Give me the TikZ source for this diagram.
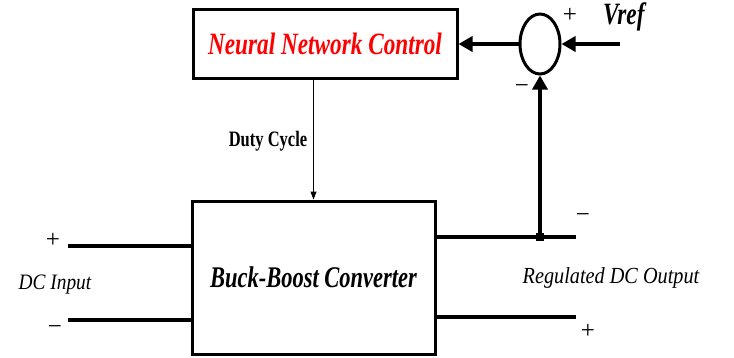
\documentclass[tikz,border=0pt]{standalone}
\usepackage{fontspec}
\setmainfont{Liberation Serif}
\newfontfamily\narrowfont[FakeStretch=0.75]{Liberation Serif}
\newfontfamily\midfont[FakeStretch=0.88]{Liberation Serif}
\usetikzlibrary{arrows.meta,shapes.geometric}

\begin{document}
\begin{tikzpicture}[x=1pt, y=-1pt,
    blockbox/.style={draw, line width=3pt, inner sep=0pt},
    bus/.style={line width=4pt},
    feed/.style={line width=3.5pt, -{Triangle[length=14pt,width=15pt]}},
    sign/.style={font=\fontsize{25}{25}\selectfont}]
    \useasboundingbox (0,0) rectangle (734,357);

    % blocks
    \node[blockbox, minimum width=264pt, minimum height=69pt, text=red,
          font=\narrowfont\bfseries\itshape\fontsize{31}{31}\selectfont] (nnc) at (325,44) {Neural Network Control};
    \node[draw, ellipse, line width=3pt, inner sep=0pt, minimum width=40pt, minimum height=60pt] (sum) at (540,44) {};
    \node[blockbox, minimum width=243pt, minimum height=153pt,
          font=\narrowfont\bfseries\itshape\fontsize{30}{30}\selectfont] (bbc) at (313.5,277.5) {Buck-Boost Converter};

    % line ends
    \coordinate (vref) at (620,44);
    \coordinate (outm) at (576,237);
    \coordinate (outp) at (576,317);
    \coordinate (inp) at (68,246);
    \coordinate (inm) at (68,320);
    \node[fill, minimum size=8pt, inner sep=0pt] (dot) at (sum.south |- outm) {};

    % connectors
    \draw[feed] (vref) -- (sum.east);
    \draw[feed] (sum.west) -- (nnc.east);
    \draw[line width=1pt, -{Triangle[length=8pt,width=6pt]}] (nnc.south -| bbc.north) -- (bbc.north);
    \draw[bus] (bbc.east |- outm) -- (outm);
    \draw[bus] (bbc.east |- outp) -- (outp);
    \draw[bus] (inp) -- (bbc.west |- inp);
    \draw[bus] (inm) -- (bbc.west |- inm);
    \draw[feed] (dot.center) -- (sum.south);

    % labels
    \node[font=\narrowfont\bfseries\fontsize{22}{22}\selectfont] (duty) at (268,141) {Duty Cycle};
    \node[anchor=base west, inner sep=0pt, font=\narrowfont\bfseries\itshape\fontsize{31}{31}\selectfont] (vrefl) at (603,24) {Vref};
    \node[font=\midfont\itshape\fontsize{22}{22}\selectfont] (dcin) at (55,285) {DC Input};
    \node[font=\midfont\itshape\fontsize{23}{23}\selectfont] (dcout) at (611,278) {Regulated DC Output};
    \node[sign] (sump) at (570,15) {+};
    \node[sign] (summ) at (522,89) {−};
    \node[sign] (inpl) at (53,240) {+};
    \node[sign] (inml) at (55,330) {−};
    \node[sign] (outml) at (583,218) {−};
    \node[sign] (outpl) at (588,331) {+};
\end{tikzpicture}
\end{document}
